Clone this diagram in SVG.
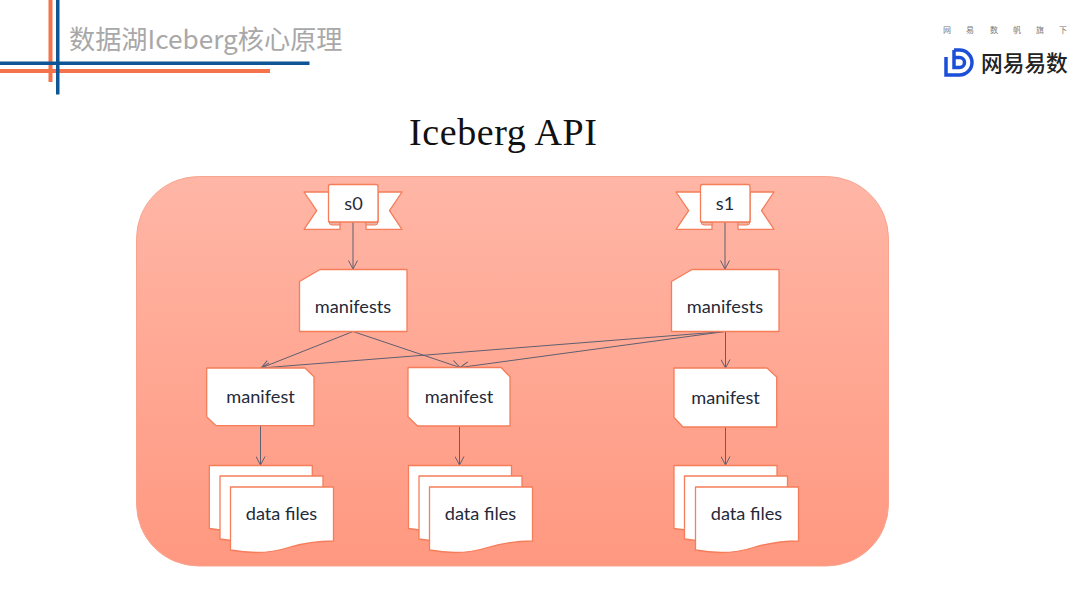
<svg xmlns="http://www.w3.org/2000/svg" width="1080" height="603" viewBox="0 0 1080 603">
<style>
.shape{fill:#fff;stroke:#f57d5a;stroke-width:1.3;stroke-linejoin:round}
.lbl{font-family:"Lato","Noto Sans","Liberation Sans",sans-serif;font-size:18.200px;fill:#1f2a3a;text-anchor:middle}
.conn{fill:none;stroke:#5f5f70;stroke-width:1;marker-end:url(#arrow)}
.top{font-family:"Noto Sans CJK SC",sans-serif;font-size:8px;fill:#777;text-anchor:middle}
</style>
<defs>
<linearGradient id="bg" x1="0" y1="0" x2="0" y2="1"><stop offset="0" stop-color="#ffb6a6"/><stop offset="1" stop-color="#ff9880"/></linearGradient>
<marker id="arrow" viewBox="0 0 10 10" refX="9.500" refY="5" markerWidth="10" markerHeight="10" markerUnits="userSpaceOnUse" orient="auto"><path d="M1 0.500L9.500 5L1 9.500" fill="none" stroke="#5f5f70" stroke-width="1"/></marker>
<g id="wave"><path class="shape" d="M0 0H103V54Q80 54 58 60.500Q32 69 0 63Z"/></g>
</defs>
<rect width="1080" height="603" fill="#fff"/>
<g id="header">
<rect x="48.500" y="0" width="4" height="82" fill="#f5734a"/>
<rect x="0" y="69" width="270" height="4" fill="#f5734a"/>
<rect x="0" y="61.500" width="309.500" height="3.500" fill="#0e5596"/>
<rect x="56" y="0" width="3.500" height="94.500" fill="#0e5596"/>
<text x="69" y="49" font-family="'Noto Sans CJK SC','Liberation Sans',sans-serif" font-size="26.200" fill="#a8a8a8">数据湖Iceberg核心原理</text>
</g>
<g id="logo">
<text class="top" x="947" y="33">网</text><text class="top" x="970" y="33">易</text><text class="top" x="994" y="33">数</text><text class="top" x="1017" y="33">帆</text><text class="top" x="1040" y="33">旗</text><text class="top" x="1063" y="33">下</text>
<path d="M954 50H959.500A12.500 12.500 0 0 1 959.500 75H946V57M954 50V67.500H959.500A5 5 0 0 0 959.500 57.500H954" fill="none" stroke="#1c4fd8" stroke-width="3.500"/>
<text x="981" y="71" font-family="'Noto Sans CJK SC',sans-serif" font-size="21.700" font-weight="500" fill="#222">网易易数</text>
</g>
<text id="title" x="409" y="145" font-family="'Liberation Serif',serif" font-size="38" letter-spacing="0.600" fill="#111">Iceberg API</text>
<rect id="panel" x="136.500" y="176.500" width="752" height="389.500" rx="62" fill="url(#bg)" stroke="#f9a48e" stroke-width="1"/>
<g id="connectors">
<path class="conn" d="M353 222V269"/>
<path class="conn" d="M725 222V269"/>
<path class="conn" d="M353 331.500L261 368"/>
<path class="conn" d="M353 331.500L460 367.500"/>
<path class="conn" d="M725 331.500L261 368"/>
<path class="conn" d="M725 331.500L460 367.500"/>
<path class="conn" d="M725.500 331.500V368"/>
<path class="conn" d="M260.500 426V465"/>
<path class="conn" d="M459.500 427V465"/>
<path class="conn" d="M725.500 427V465"/>
</g>
<g id="s0">
<path class="shape" d="M304 192H329V222H340V229.300H304L316.700 210.700Z"/>
<path class="shape" d="M402 192H378V222H366V229.300H402L389.500 210.700Z"/>
<path d="M329 222Q329 225 332 225H340V222ZM378 222Q378 225 375 225H366V222Z" fill="#e8b5a5" stroke="#f57d5a" stroke-width="1"/>
<rect class="shape" x="328.500" y="184.500" width="49.500" height="37.500" rx="2"/>
<text class="lbl" x="353.500" y="210">s0</text>
</g>
<g id="s1">
<path class="shape" d="M676 192H701V222H712V229.300H676L688.700 210.700Z"/>
<path class="shape" d="M774 192H750V222H738V229.300H774L761.500 210.700Z"/>
<path d="M701 222Q701 225 704 225H712V222ZM750 222Q750 225 747 225H738V222Z" fill="#e8b5a5" stroke="#f57d5a" stroke-width="1"/>
<rect class="shape" x="700.500" y="184.500" width="49.500" height="37.500" rx="2"/>
<text class="lbl" x="725" y="210">s1</text>
</g>
<g id="manifests0"><path class="shape" d="M320 269.500H407V331.500H299.500V281.500Z"/><text class="lbl" x="353" y="313">manifests</text></g>
<g id="manifests1"><path class="shape" d="M692 269.500H779V331.500H671.500V281.500Z"/><text class="lbl" x="725" y="313">manifests</text></g>
<g id="manifest0"><path class="shape" d="M206.700 368H305L314 376.700V425.700H216L206.700 416.700Z"/><text class="lbl" x="260.500" y="403">manifest</text></g>
<g id="manifest1"><path class="shape" d="M408 367.500H501L510 376.700V426H417.500L408 416.700Z"/><text class="lbl" x="459" y="403">manifest</text></g>
<g id="manifest2"><path class="shape" d="M674 368H767L776.700 377V427H683L674 417.500Z"/><text class="lbl" x="725.500" y="404">manifest</text></g>
<g id="files0"><use href="#wave" x="209.300" y="465.500"/><use href="#wave" x="220" y="476"/><use href="#wave" x="230.500" y="487"/><text class="lbl" x="281.500" y="520">data files</text></g>
<g id="files1"><use href="#wave" x="408.500" y="465.500"/><use href="#wave" x="419" y="476"/><use href="#wave" x="429.500" y="487"/><text class="lbl" x="480.500" y="520">data files</text></g>
<g id="files2"><use href="#wave" x="674" y="465.500"/><use href="#wave" x="684.500" y="476"/><use href="#wave" x="695.500" y="487"/><text class="lbl" x="746.500" y="520">data files</text></g>
</svg>
